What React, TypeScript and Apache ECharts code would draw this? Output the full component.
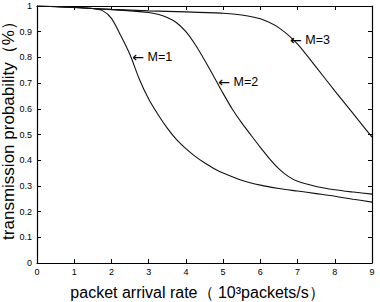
import React, { useEffect, useRef } from "react";
import * as echarts from "echarts";

// Transmission probability vs packet arrival rate for M = 1, 2, 3
const m1X = [0, 0.5, 1, 1.5, 1.75, 2, 2.25, 2.5, 2.75, 3, 3.25, 3.5, 3.75, 4, 4.25, 4.5, 4.75, 5, 5.5, 6, 6.5, 7, 7.5, 8, 8.5, 9];
const m1Y = [1, 0.998, 0.995, 0.99, 0.983, 0.952, 0.885, 0.81, 0.715, 0.638, 0.578, 0.525, 0.48, 0.445, 0.415, 0.39, 0.368, 0.35, 0.322, 0.303, 0.29, 0.28, 0.27, 0.26, 0.248, 0.237];

const m2X = [0, 1, 2, 3, 3.25, 3.5, 3.75, 4, 4.25, 4.5, 4.75, 5, 5.25, 5.5, 5.75, 6, 6.25, 6.5, 6.75, 7, 7.5, 8, 8.5, 9];
const m2Y = [1, 0.994, 0.986, 0.975, 0.968, 0.955, 0.935, 0.9, 0.85, 0.79, 0.726, 0.66, 0.598, 0.545, 0.497, 0.45, 0.405, 0.366, 0.337, 0.318, 0.298, 0.285, 0.276, 0.268];

const m3X = [0, 1, 2, 3, 4, 5, 5.5, 6, 6.5, 7, 7.5, 8, 8.5, 9];
const m3Y = [1, 0.994, 0.987, 0.981, 0.977, 0.972, 0.965, 0.95, 0.915, 0.852, 0.762, 0.67, 0.58, 0.49];

const seriesNames = ["M=1", "M=2", "M=3"];
// where each "← M=k" note points on its curve
const noteAt: [number, number][] = [
  [2.56, 0.8],
  [4.87, 0.704],
  [6.8, 0.868],
];

const FONT = "Liberation Sans, Arial, Helvetica, sans-serif";

function pairs(xs: number[], ys: number[]) {
  return xs.map((x, i) => [x, ys[i]]);
}

export default function App() {
  const ref = useRef<HTMLDivElement>(null);

  useEffect(() => {
    if (!ref.current) return;
    const chart = echarts.init(ref.current, null, { renderer: "svg" });

    const tickInside = { show: true, inside: true, length: 4, lineStyle: { color: "#000", width: 1 } };
    const lineAxis = { show: true, onZero: false, lineStyle: { color: "#000", width: 1.2 } };

    const dataSets = [pairs(m1X, m1Y), pairs(m2X, m2Y), pairs(m3X, m3Y)];

    chart.setOption({
      animation: false,
      backgroundColor: "#fff",
      grid: { left: 37, right: 8, top: 6, bottom: 39, containLabel: false, outerBoundsMode: "none" },
      xAxis: [
        {
          type: "value",
          min: 0,
          max: 9,
          interval: 1,
          position: "bottom",
          axisLine: lineAxis,
          axisTick: tickInside,
          splitLine: { show: false },
          axisLabel: { color: "#000", fontSize: 9, fontFamily: FONT, margin: 4 },
          name: "packet arrival rate（ 10³packets/s）",
          nameLocation: "middle",
          nameGap: 21,
          nameMoveOverlap: false,
          nameTextStyle: { color: "#000", fontSize: 16, fontFamily: FONT, padding: [0, 14, 0, 0] },
        },
        {
          type: "value",
          min: 0,
          max: 9,
          interval: 1,
          position: "top",
          axisLine: lineAxis,
          axisTick: tickInside,
          splitLine: { show: false },
          axisLabel: { show: false },
        },
      ],
      yAxis: [
        {
          type: "value",
          min: 0,
          max: 1,
          interval: 0.1,
          position: "left",
          axisLine: lineAxis,
          axisTick: tickInside,
          splitLine: { show: false },
          axisLabel: {
            color: "#000",
            fontSize: 9,
            fontFamily: FONT,
            margin: 5,
            showMaxLabel: true,
            formatter: (v: number) => String(Math.round(v * 10) / 10),
          },
          name: "transmission probability（%）",
          nameLocation: "middle",
          nameGap: 20,
          nameMoveOverlap: false,
          nameTextStyle: { color: "#000", fontSize: 17, fontFamily: FONT, padding: [0, 0, 0, 16] },
        },
        {
          type: "value",
          min: 0,
          max: 1,
          interval: 0.1,
          position: "right",
          axisLine: lineAxis,
          axisTick: tickInside,
          splitLine: { show: false },
          axisLabel: { show: false },
        },
      ],
      series: dataSets.map((data, i) => ({
        name: seriesNames[i],
        type: "line",
        data,
        smooth: 0.25,
        symbol: "none",
        lineStyle: { color: "#111", width: 1.1 },
        markPoint: {
          symbol: "circle",
          symbolSize: 0,
          silent: true,
          data: [
            {
              coord: noteAt[i],
              label: {
                show: true,
                position: "right",
                distance: 0,
                formatter: "{a|←} " + seriesNames[i],
                color: "#000",
                fontSize: 12.5,
                fontFamily: FONT,
                rich: {
                  a: { fontFamily: "DejaVu Sans", fontSize: 14, color: "#000" },
                },
              },
            },
          ],
        },
      })),
    });

    return () => chart.dispose();
  }, []);

  return <div ref={ref} style={{ position: "absolute", left: 0, top: 0, width: 380, height: 302 }} />;
}
